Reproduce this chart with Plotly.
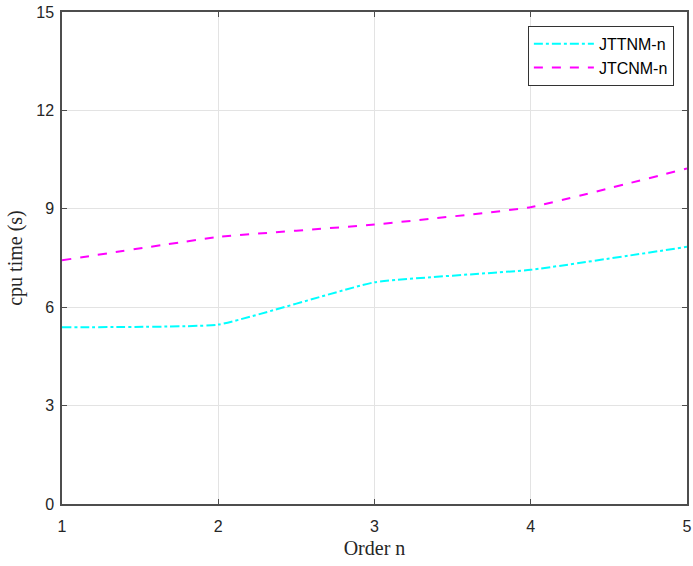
import plotly.graph_objects as go

# Polynomial order n
orders = [1, 2, 3, 4, 5]
# CPU time in seconds for each method
jttnm_time = [5.39, 5.47, 6.76, 7.14, 7.84]
jtcnm_time = [7.43, 8.14, 8.52, 9.05, 10.23]

y_ticks = [0, 3, 6, 9, 12, 15]

fig = go.Figure()
fig.add_trace(go.Scatter(
    x=orders, y=jttnm_time, mode="lines", name="JTTNM-n",
    line=dict(color="#00FFFF", width=2, dash="dashdot", shape="spline", smoothing=0.35),
))
fig.add_trace(go.Scatter(
    x=orders, y=jtcnm_time, mode="lines", name="JTCNM-n",
    line=dict(color="#FF00FF", width=2, dash="dash", shape="spline", smoothing=0.35),
))

axis_common = dict(
    showgrid=True, gridcolor="#e3e3e3", gridwidth=1,
    showline=True, linecolor="#4d4d4d", linewidth=1.5, mirror="ticks",
    ticks="inside", ticklen=5, tickcolor="#4d4d4d",
    tickfont=dict(family="Liberation Sans, Arial", size=16, color="#262626"),
    zeroline=False, automargin=False,
)
title_font = dict(family="Liberation Serif, Times New Roman", size=20, color="#262626")

fig.update_layout(
    width=693, height=566,
    margin=dict(l=62, r=6, t=12, b=62),
    paper_bgcolor="white", plot_bgcolor="white",
    xaxis=dict(
        range=[1, 5], tickvals=orders, ticklabelstandoff=7,
        title=dict(text="Order n", font=title_font, standoff=7),
        **axis_common,
    ),
    yaxis=dict(
        range=[0, 15], tickvals=y_ticks, ticklabelstandoff=3,
        title=dict(text="cpu time (s)", font=title_font, standoff=8),
        **axis_common,
    ),
    legend=dict(
        x=0.979, y=0.972, xanchor="right", yanchor="top",
        bgcolor="white", bordercolor="#333333", borderwidth=1,
        font=dict(family="Liberation Sans, Arial", size=16, color="#000000"),
        itemwidth=60, tracegroupgap=0,
    ),
    showlegend=True,
)

fig.write_html("out.html")
